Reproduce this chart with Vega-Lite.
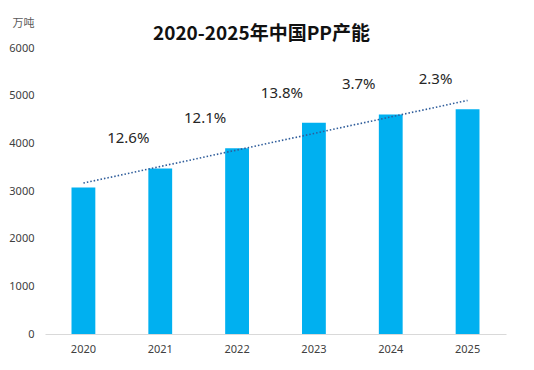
{
  "$schema": "https://vega.github.io/schema/vega-lite/v6.json",
  "autosize": "none",
  "width": 461,
  "height": 286,
  "padding": {"left": 45, "top": 48, "right": 28, "bottom": 36},
  "background": "white",
  "config": {"view": {"stroke": null}},
  "title": {
    "text": "2020-2025年中国PP产能",
    "font": "Noto Sans CJK SC",
    "fontSize": 19,
    "fontWeight": "bold",
    "color": "#111111",
    "anchor": "middle",
    "frame": "group",
    "baseline": "bottom",
    "offset": 8,
    "dx": -14,
    "dy": 54
  },
  "data": {
    "values": [
      {"year": 2020, "value": 3075, "growth": ""},
      {"year": 2021, "value": 3474, "growth": "12.6%"},
      {"year": 2022, "value": 3899, "growth": "12.1%"},
      {"year": 2023, "value": 4430, "growth": "13.8%"},
      {"year": 2024, "value": 4606, "growth": "3.7%"},
      {"year": 2025, "value": 4717, "growth": "2.3%"}
    ]
  },
  "encoding": {
    "x": {
      "field": "year",
      "type": "ordinal",
      "scale": {"paddingInner": 0.69, "paddingOuter": 0.345},
      "axis": {
        "title": null,
        "labelAngle": 0,
        "labelFont": "Noto Sans",
        "labelFontSize": 11,
        "labelColor": "#404040",
        "labelPadding": 9,
        "ticks": false,
        "domainColor": "#d9d9d9",
        "domainWidth": 1
      }
    }
  },
  "layer": [
    {
      "mark": {"type": "bar", "color": "#00B0F0"},
      "encoding": {
        "y": {
          "field": "value",
          "type": "quantitative",
          "scale": {"domain": [0, 6000]},
          "axis": {
            "title": "万吨",
            "titleAngle": 0,
            "titleAlign": "left",
            "titleBaseline": "middle",
            "titleX": -33,
            "titleY": -25,
            "titleFont": "Noto Sans CJK SC",
            "titleFontSize": 11,
            "titleFontWeight": "normal",
            "titleColor": "#595959",
            "values": [0, 1000, 2000, 3000, 4000, 5000, 6000],
            "format": "d",
            "labelFont": "Noto Sans",
            "labelFontSize": 11,
            "labelColor": "#404040",
            "labelPadding": 11,
            "ticks": false,
            "domain": false,
            "grid": false
          }
        }
      }
    },
    {
      "transform": [{"regression": "value", "on": "year"}],
      "mark": {"type": "line", "color": "#2E5C9A", "strokeWidth": 1.6, "strokeDash": [1.5, 2]},
      "encoding": {
        "y": {"field": "value", "type": "quantitative"}
      }
    },
    {
      "transform": [{"filter": "datum.growth != ''"}],
      "mark": {
        "type": "text",
        "font": "Noto Sans",
        "fontSize": 15,
        "color": "#262626",
        "baseline": "middle",
        "dx": -32,
        "dy": -30
      },
      "encoding": {
        "y": {"field": "value", "type": "quantitative"},
        "text": {"field": "growth"}
      }
    }
  ]
}
